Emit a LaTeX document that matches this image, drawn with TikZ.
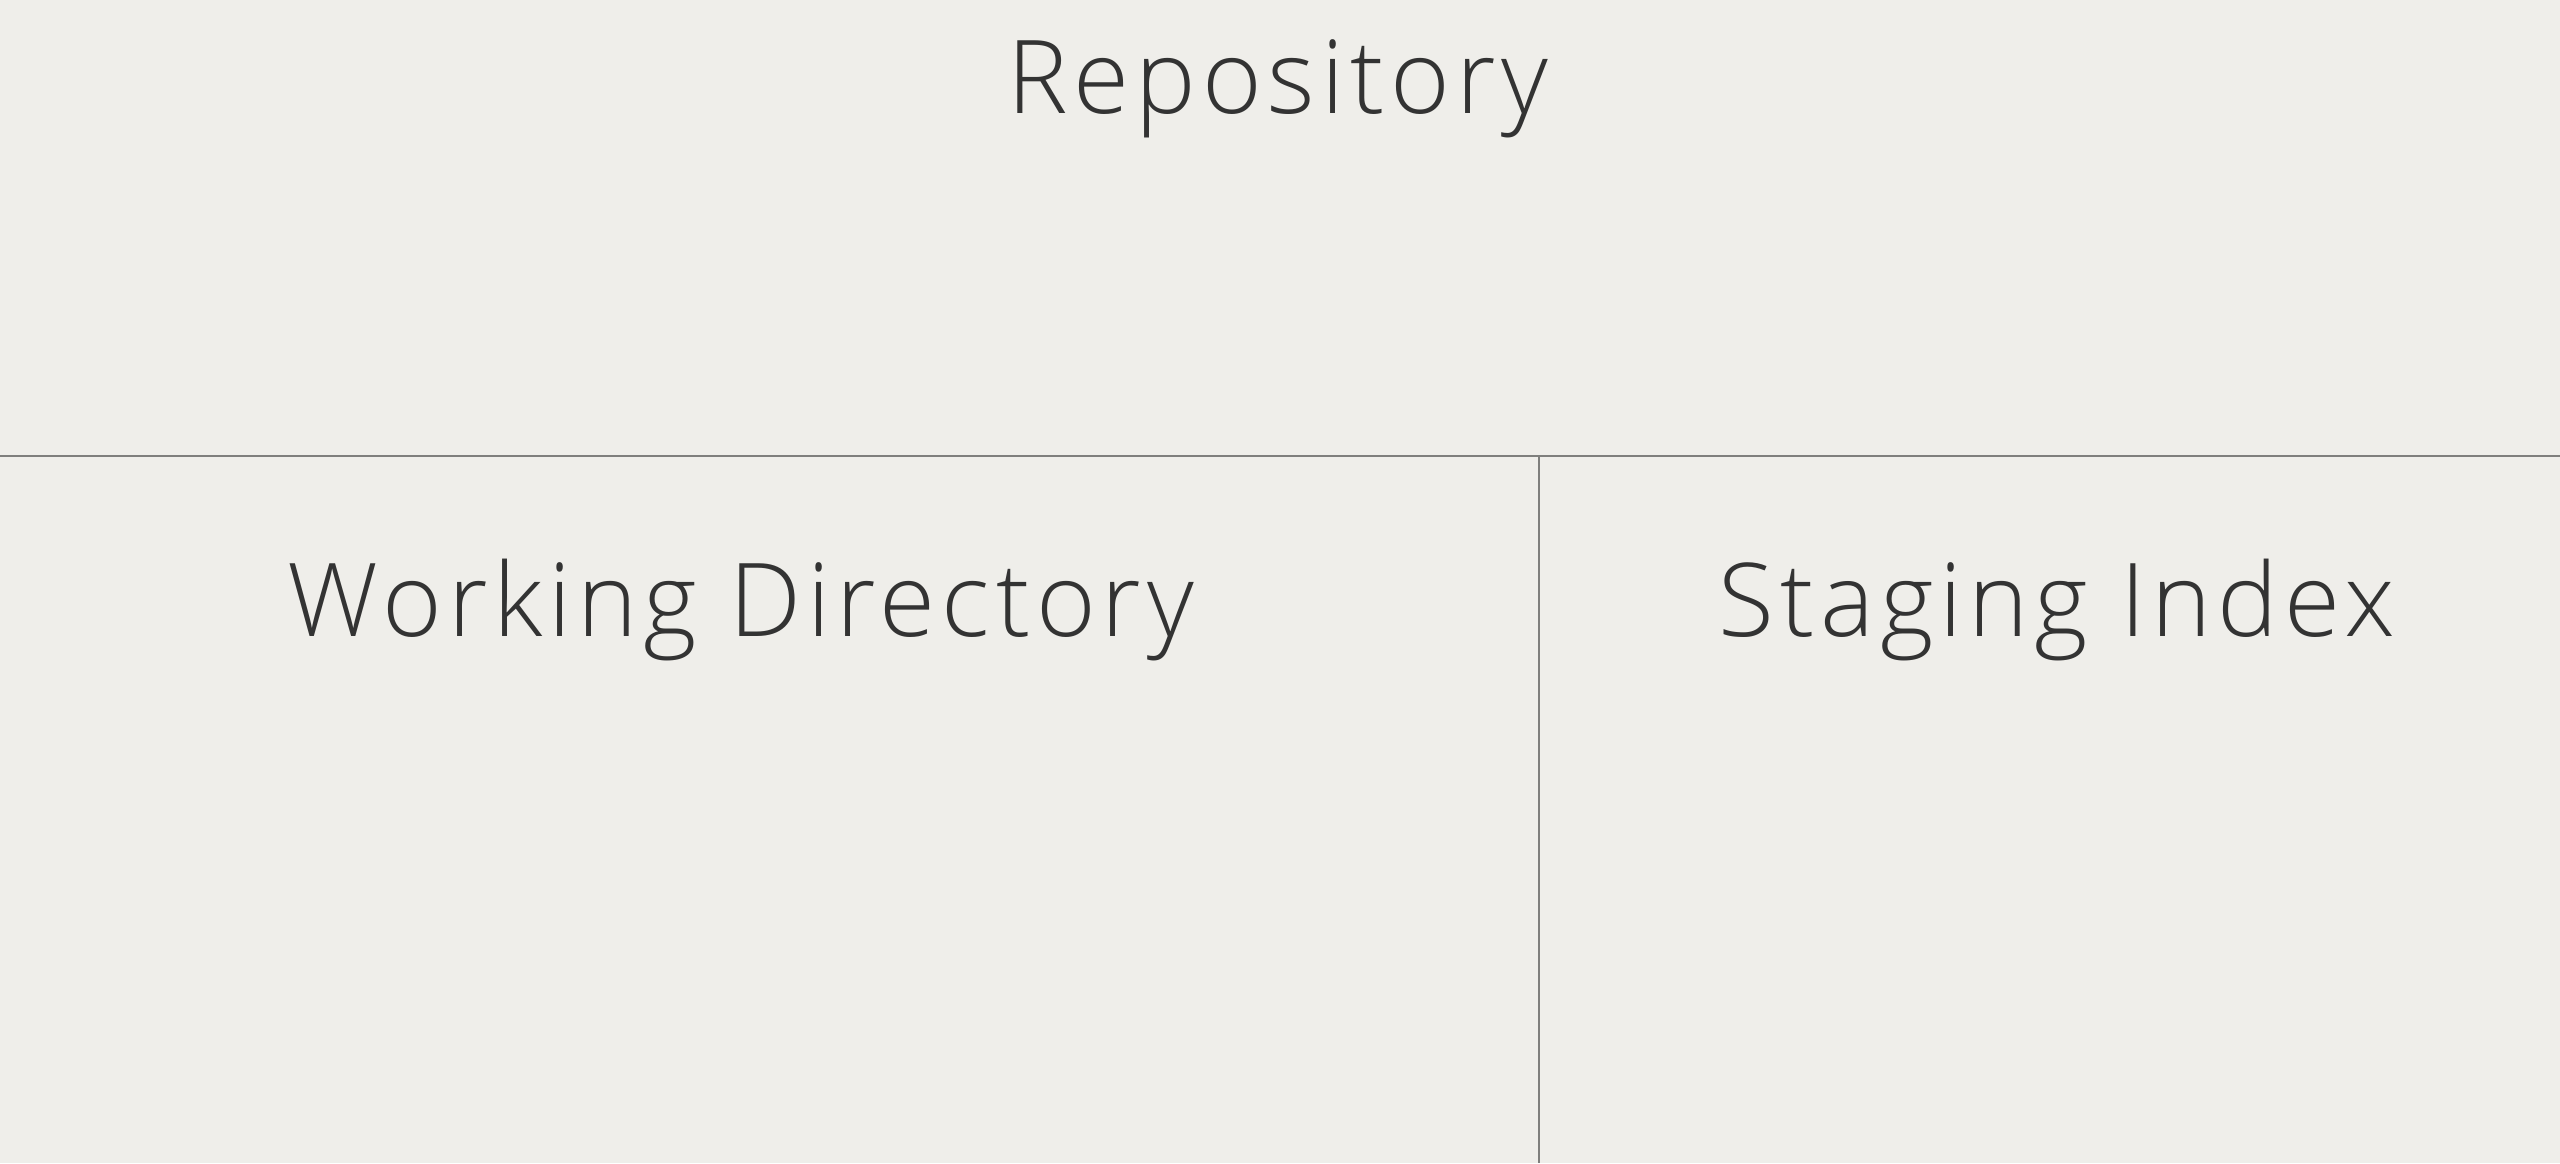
\documentclass[tikz,border=0pt]{standalone}
\usepackage{fontspec}
\setmainfont{Open Sans}[UprightFont={* Light},LetterSpace=5.8]
\usepackage{xcolor}
\usepackage{tikz}
\usetikzlibrary{positioning}
\definecolor{paper}{HTML}{EFEEEA}
\definecolor{rule}{HTML}{7F7F7D}
\definecolor{ink}{HTML}{333333}
\tikzset{area/.style={anchor=base, text=ink, font=\fontsize{29}{35}\selectfont, inner sep=0pt},
  divider/.style={draw=rule, line width=0.6pt}}

\begin{document}
\begin{tikzpicture}
  \fill[paper] (0,0) rectangle (25.6,11.63);
  \useasboundingbox (0,0) rectangle (25.6,11.63);
  \coordinate (left) at (0,7.07);
  \coordinate (right) at (25.6,7.07);
  \coordinate (top) at (15.39,7.07);
  \coordinate (bottom) at (15.39,0);
  \draw[divider] (left) -- (right);
  \draw[divider] (top) -- (bottom);
  \node[area] (repo) at (12.78,10.49) {Repository};
  \node[area] (workdir) at (7.41,5.26) {Working Directory};
  \node[area] (staging) at (20.57,5.26) {Staging Index};
\end{tikzpicture}
\end{document}
